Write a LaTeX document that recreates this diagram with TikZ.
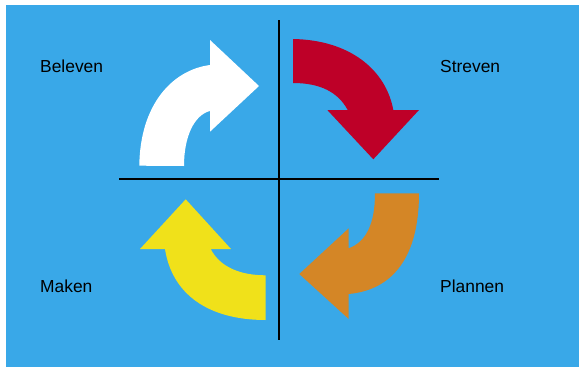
\documentclass[tikz,border=0pt]{standalone}
\usepackage{fontspec}
\setmainfont{Liberation Sans}
\definecolor{bgblue}{RGB}{57,168,232}
\definecolor{arrred}{RGB}{190,0,40}
\definecolor{arrorange}{RGB}{212,134,38}
\definecolor{arryellow}{RGB}{240,225,26}
\tikzset{
  lbl/.style={anchor=base west, inner sep=0pt, font=\fontsize{17.4}{20}\selectfont, text=black},
  axis/.style={draw=black, line width=2pt},
  arrshape/.style={draw=none}
}
\begin{document}
\begin{tikzpicture}[x=1pt,y=-1pt]
\useasboundingbox (0,0) rectangle (579,367);
\fill[white] (0,0) rectangle (579,367);
\fill[bgblue] (6,5) rectangle (579,367);
% white arrow (Beleven -> Streven)
\fill[white] (139.3,165.7) .. controls (140,105) and (172,70) .. (210,65)
  -- (210,40) -- (259,86) -- (210,131.7) -- (210,111)
  .. controls (194,115) and (184,137) .. (184,166) -- cycle;
% red arrow
\fill[arrred] (293,39) .. controls (350,40) and (386,70) .. (393.3,110)
  -- (419,110) -- (373.3,159.3) -- (327.3,110) -- (347.7,110)
  .. controls (338,92) and (320,83) .. (293,83) -- cycle;
% orange arrow
\fill[arrorange] (419,193.3) .. controls (419,258) and (392,290) .. (348.7,294)
  -- (348.7,319) -- (299.3,274) -- (348.7,228.3) -- (348.7,248.3)
  .. controls (366,242) and (375,224) .. (375,193.3) -- cycle;
% yellow arrow
\fill[arryellow] (265.7,320) .. controls (208,320) and (172,294) .. (165,249)
  -- (140,249) -- (185.7,199.3) -- (231,249) -- (210.7,249)
  .. controls (220,267) and (240,275.3) .. (265.7,275.3) -- cycle;
% axes
\coordinate (vtop) at (279,20);
\coordinate (vbot) at (279,340);
\coordinate (hl) at (119,179);
\coordinate (hr) at (439,179);
\draw[axis] (vtop) -- (vbot);
\draw[axis] (hl) -- (hr);
% labels
\node[lbl] (beleven) at (40,72.7) {Beleven};
\node[lbl] (streven) at (440,72.7) {Streven};
\node[lbl] (maken) at (40,292.7) {Maken};
\node[lbl] (plannen) at (440,292.7) {Plannen};
\end{tikzpicture}
\end{document}
